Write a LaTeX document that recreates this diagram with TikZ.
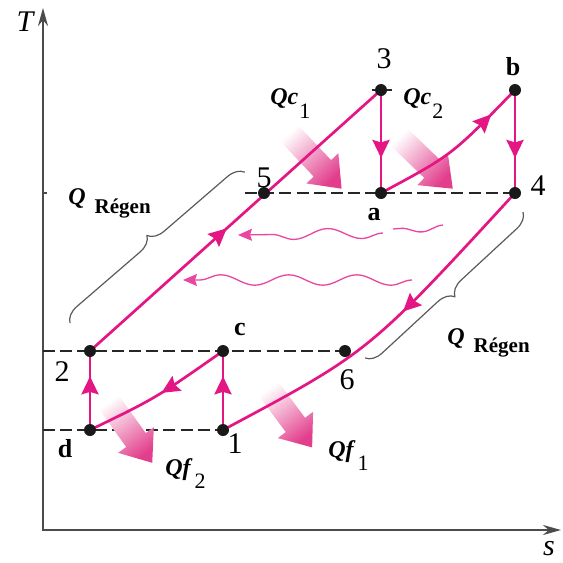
\documentclass[tikz,border=0pt]{standalone}
\usepackage{fontspec}
\setmainfont{Liberation Serif}
\usetikzlibrary{arrows.meta,decorations.pathmorphing,decorations.pathreplacing,decorations.markings}
\definecolor{pk}{RGB}{228,22,132}
\definecolor{pkw}{RGB}{232,70,160}
\definecolor{pka}{RGB}{226,62,140}
\definecolor{axc}{RGB}{75,75,75}
\definecolor{brc}{RGB}{90,90,90}
\newcommand{\heatarrow}[5]{%
  \begin{scope}[shift={(#1,#2)},rotate=#3]
    \shade[top color=pka, bottom color=white, shading angle=#5]
      (0,-12) -- (#4-28,-12) -- (#4-28,-22) -- (#4,0) -- (#4-28,22) -- (#4-28,12) -- (0,12) -- cycle;
  \end{scope}}
\begin{document}
\begin{tikzpicture}[x=0.5pt,y=-0.5pt,
  cyc/.style={draw=pk,line width=1.35pt},
  marr/.style={postaction={decorate},decoration={markings,mark=at position #1 with {\arrow[pk]{Stealth[length=9pt,width=8.5pt,inset=1.2pt]}}}},
  dsh/.style={draw=black!85,line width=0.7pt,dash pattern=on 6pt off 2.6pt},
  blackdot/.style={circle,fill=black!90,inner sep=0pt,minimum size=6pt},
  wave/.style={draw=pkw,line width=0.65pt,decorate,decoration={snake,amplitude=2.6pt,segment length=34pt,post length=5pt}},
  wavetip/.style={-{Stealth[length=7pt,width=6pt,inset=1pt]}},
  brc/.style={draw=brc,line width=0.6pt,decorate,decoration={brace,amplitude=8pt}},
  lbl/.style={font=\fontsize{15}{15}\selectfont,inner sep=0pt},
  blbl/.style={font=\fontsize{13}{13}\selectfont\bfseries,inner sep=0pt},
  qlbl/.style={font=\fontsize{12}{12}\selectfont,anchor=base west,inner sep=0pt}
]
\useasboundingbox (0,0) rectangle (563,563);

% coordinates
\coordinate (O) at (43,530);
\coordinate (Ytop) at (43,8);
\coordinate (Xend) at (561,530);
\coordinate (tk1) at (43,193);
\coordinate (tk2) at (47,193);
\coordinate (P3) at (381,90);
\coordinate (Pb) at (515,90);
\coordinate (Pa) at (381,193);
\coordinate (P4) at (515,193);
\coordinate (P5) at (264,193);
\coordinate (P2) at (90,351);
\coordinate (Pc) at (223,351);
\coordinate (P6) at (345,351);
\coordinate (Pd) at (90,430);
\coordinate (P1) at (223,430);
\coordinate (h5) at (245,193);
\coordinate (h2) at (43,351);
\coordinate (hd) at (43,430);
\coordinate (s3a) at (372,90);
\coordinate (s3b) at (392,90);

% axes
\draw[axc,line width=1.1pt,line join=miter,{Stealth[length=9pt,width=5pt]}-{Stealth[length=9pt,width=5pt]}] (Ytop) -- (O) -- (Xend);
\draw[axc,line width=0.8pt] (tk1) -- (tk2);
\node[lbl,font=\fontsize{15}{15}\selectfont\itshape] (Tl) at (25,22) {T};
\node[lbl,font=\fontsize{15}{15}\selectfont\itshape] (sl) at (549,549) {s};

% dashed lines
\draw[dsh] (h5) -- (P4);
\draw[dsh] (h2) -- (P6);
\draw[dsh] (hd) -- (P1);
\draw[black!85,line width=0.8pt] (s3a) -- (s3b);

% heat arrows
\heatarrow{288}{132}{-46.6}{78}{-136.6}
\heatarrow{398}{136}{-43.9}{76}{-133.9}
\heatarrow{108}{401}{-54.4}{76}{-144.4}
\heatarrow{268}{388}{-53.4}{74}{-143.4}

% wavy arrows
\coordinate (w1a) at (443,225);
\coordinate (w1b) at (393,229);
\coordinate (w2a) at (383,233);
\coordinate (w2b) at (238,235);
\coordinate (w3a) at (412,280);
\coordinate (w3b) at (183,280);
\draw[wave,decoration={post length=0pt}] (w1a) -- (w1b);
\draw[wave,wavetip,pkw] (w2a) -- (w2b);
\draw[wave,wavetip,pkw] (w3a) -- (w3b);

% cycle
\draw[cyc,marr=0.47] (P2) -- (P3);
\draw[cyc,marr=0.66] (P3) -- (Pa);
\draw[cyc,marr=0.8] (Pa) .. controls (452,155) .. (Pb);
\draw[cyc,marr=0.66] (Pb) -- (P4);
\draw[cyc,marr=0.43] (P4) .. controls (369,352) .. (P1);
\draw[cyc,marr=0.68] (P1) -- (Pc);
\draw[cyc,marr=0.48] (Pc) .. controls (156,398) .. (Pd);
\draw[cyc,marr=0.68] (Pd) -- (P2);

% dots
\foreach \n in {P3,Pb,Pa,P4,P5,P2,Pc,P6,Pd,P1} \node[blackdot] (d\n) at (\n) {};

% braces
\coordinate (bl1) at (70,323);
\coordinate (bl2) at (245,172);
\coordinate (br1) at (523,212);
\coordinate (br2) at (365,358);
\draw[brc] (bl1) -- (bl2);
\draw[brc] (br1) -- (br2);

% point labels
\node[lbl] (l3) at (384,59) {3};
\node[blbl] (lb) at (513,67) {b};
\node[lbl] (l4) at (538,186) {4};
\node[blbl] (la) at (374,215) {a};
\node[lbl] (l5) at (264,178) {5};
\node[lbl] (l2) at (62,372) {2};
\node[blbl] (lc) at (240,329) {c};
\node[lbl] (l6) at (347,380) {6};
\node[blbl] (ld) at (65,449) {d};
\node[lbl] (l1) at (235,444) {1};

% heat labels
\node[qlbl] (qc1) at (270,104) {\textbf{\textit{Qc}}\hspace{0.5pt}\raisebox{-7pt}{\fontsize{11}{11}\selectfont 1}};
\node[qlbl] (qc2) at (403,104) {\textbf{\textit{Qc}}\hspace{0.5pt}\raisebox{-7pt}{\fontsize{11}{11}\selectfont 2}};
\node[qlbl] (qf2) at (165,475) {\textbf{\textit{Qf}}\hspace{1pt}\raisebox{-6.5pt}{\fontsize{11}{11}\selectfont 2}};
\node[qlbl] (qf1) at (328,457) {\textbf{\textit{Qf}}\hspace{1pt}\raisebox{-6.5pt}{\fontsize{11}{11}\selectfont 1}};
\node[qlbl] (qr1) at (68,204) {\textbf{\textit{Q}}\hspace{4.5pt}\raisebox{-4.5pt}{\fontsize{10.5}{10.5}\selectfont\textbf{Régen}}};
\node[qlbl] (qr2) at (447,344) {\textbf{\textit{Q}}\hspace{4.5pt}\raisebox{-4pt}{\fontsize{10.5}{10.5}\selectfont\textbf{Régen}}};
\end{tikzpicture}
\end{document}
